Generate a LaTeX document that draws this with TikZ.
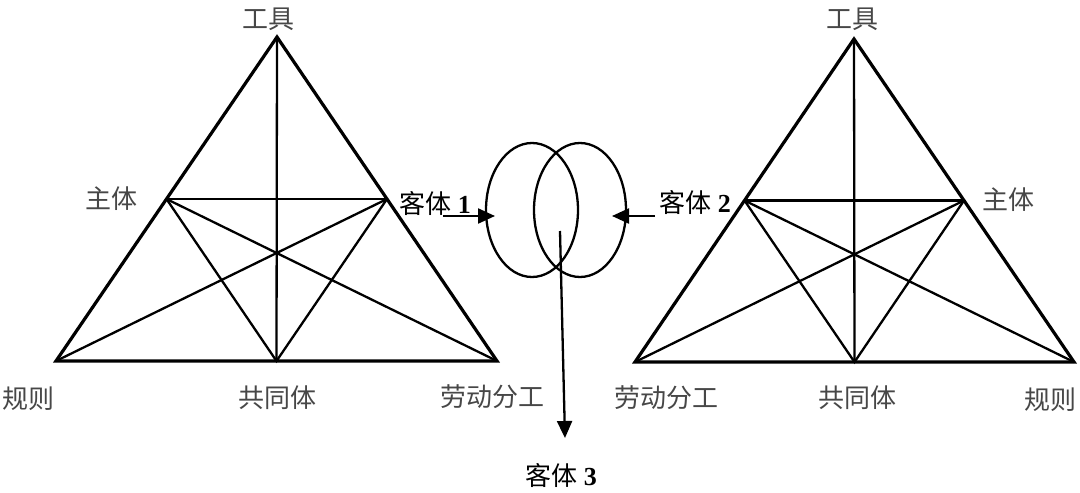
\documentclass[tikz,border=0pt]{standalone}
\usepackage{fontspec}
\setmainfont{Liberation Serif}
\newfontfamily\cjk{Noto Sans CJK SC}
\usetikzlibrary{arrows.meta}
\begin{document}
\begin{tikzpicture}[x=1pt,y=-1pt,
  outer/.style={line width=3.2pt, line join=miter},
  inner/.style={line width=2.3pt},
  lab/.style={font=\cjk\fontsize{26}{26}\selectfont, text=black!72, inner sep=0pt},
  objlab/.style={font=\fontsize{26}{26}\selectfont, text=black, inner sep=0pt},
  ring/.style={line width=2.3pt},
  arr/.style={line width=2.3pt, -{Triangle[length=17pt,width=15pt]}}]
\useasboundingbox (0,0) rectangle (1080,493);
% left triangle
\coordinate (LA) at (277,37);
\coordinate (LB) at (56,361);
\coordinate (LC) at (497,361);
\coordinate (LM1) at (166.5,199);
\coordinate (LM2) at (387,199);
\coordinate (LM3) at (276.5,361);
\draw[inner] (LA) -- (LM3);
\draw[inner] (LM1) -- (LM2);
\draw[inner] (LB) -- (LM2);
\draw[inner] (LC) -- (LM1);
\draw[inner] (LM1) -- (LM3) -- (LM2);
\draw[outer] (LA) -- (LB) -- (LC) -- cycle;
% right triangle
\coordinate (RA) at (854,39);
\coordinate (RB) at (635,362);
\coordinate (RC) at (1074,362);
\coordinate (RM1) at (744.5,200.5);
\coordinate (RM2) at (964,200.5);
\coordinate (RM3) at (854.5,362);
\draw[inner] (RA) -- (RM3);
\draw[inner] (RM1) -- (RM2);
\draw[inner] (RB) -- (RM2);
\draw[inner] (RC) -- (RM1);
\draw[inner] (RM1) -- (RM3) -- (RM2);
\draw[outer] (RA) -- (RB) -- (RC) -- cycle;
% rings
\draw[ring] (532,210) ellipse [x radius=46, y radius=67];
\draw[ring] (580,210) ellipse [x radius=46, y radius=67];
% arrows
\coordinate (a1s) at (443,216);
\coordinate (a1e) at (495,216);
\coordinate (a2s) at (655,216);
\coordinate (a2e) at (612,216);
\coordinate (a3s) at (560,231);
\coordinate (a3e) at (565,438);
\draw[arr] (a1s) -- (a1e);
\draw[arr] (a2s) -- (a2e);
\draw[arr] (a3s) -- (a3e);
% labels left
\node[lab] (l1) at (268,19) {工具};
\node[lab] (l2) at (111,199) {主体};
\node[lab] (l3) at (28,399) {规则};
\node[lab] (l4) at (277,398) {共同体};
\node[lab] (l5) at (492,397) {劳动分工};
% labels right
\node[lab] (r1) at (852,19) {工具};
\node[lab] (r2) at (1008,200) {主体};
\node[lab] (r3) at (1050,400) {规则};
\node[lab] (r4) at (857,398) {共同体};
\node[lab] (r5) at (666,398) {劳动分工};
% object labels
\node[objlab] (o1) at (435,203) {{\cjk 客体} \textbf{1}};
\node[objlab] (o2) at (695,202) {{\cjk 客体} \textbf{2}};
\node[objlab] (o3) at (561,475) {{\cjk 客体} \textbf{3}};
\end{tikzpicture}
\end{document}
